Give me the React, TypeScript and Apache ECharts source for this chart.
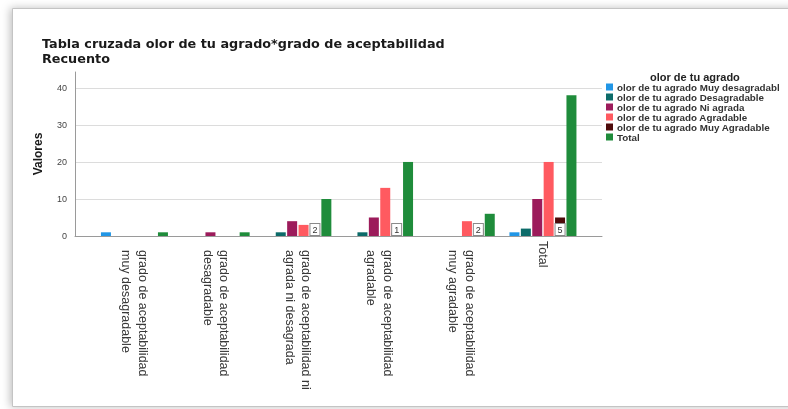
import React, { useEffect, useRef } from "react";
import * as echarts from "echarts";

const categories = [
  "grado de aceptabilidad\nmuy desagradable",
  "grado de aceptabilidad\ndesagradable",
  "grado de aceptabilidad ni\nagrada ni desagrada",
  "grado de aceptabilidad\nagradable",
  "grado de aceptabilidad\nmuy agradable",
  "Total",
];
const seriesNames = [
  "olor de tu agrado Muy desagradabl",
  "olor de tu agrado Desagradable",
  "olor de tu agrado Ni agrada",
  "olor de tu agrado Agradable",
  "olor de tu agrado Muy Agradable",
  "Total",
];
const muyDesagradable = [1, 0, 0, 0, 0, 1];
const desagradable = [0, 0, 1, 1, 0, 2];
const niAgrada = [0, 1, 4, 5, 0, 10];
const agradable = [0, 0, 3, 13, 4, 20];
const muyAgradable = [0, 0, 2, 1, 2, 5];
const total = [1, 1, 10, 20, 6, 38];
const seriesValues = [muyDesagradable, desagradable, niAgrada, agradable, muyAgradable, total];
const colors = ["#2196e6", "#0c6b69", "#9c1b5b", "#ff5a60", "#4e0a0a", "#1f8c3b"];
const yTicks = [0, 10, 20, 30, 40];
const yMax = 44.3;
const titleText = "Tabla cruzada olor de tu agrado*grado de aceptabilidad";
const subtitleText = "Recuento";
const legendTitle = "olor de tu agrado";
const yName = "Valores";

export default function App() {
  const ref = useRef<HTMLDivElement>(null);
  useEffect(() => {
    const chart = echarts.init(ref.current!, undefined, { renderer: "svg" });
    const font = "'Liberation Sans', Arial, sans-serif";
    const titleStyle = { fontSize: 12.8, fontWeight: "bold", color: "#1a1a1a", lineHeight: 12.8, fontFamily: "'DejaVu Sans', sans-serif" };
    const series: any[] = seriesValues.map((vals, i) => ({
      name: seriesNames[i],
      type: "bar",
      xAxisIndex: 1,
      yAxisIndex: 1,
      barWidth: 10,
      barGap: "14%",
      itemStyle: { color: colors[i] },
      data: i === 4 ? vals.map((v) => (v > 0 ? v : null)) : vals,
      label:
        i === 4
          ? {
              show: true,
              position: "insideBottom",
              distance: 1,
              color: "#333",
              fontSize: 9,
              fontFamily: font,
              backgroundColor: "#ffffff",
              borderColor: "#8a8a8a",
              borderWidth: 1,
              padding: [1, 2, 1, 2],
            }
          : { show: false },
    }));
    chart.setOption({
      animation: false,
      textStyle: { fontFamily: font },
      graphic: [
        {
          type: "rect",
          z: -10,
          shape: { x: 12.5, y: 8.5, width: 800, height: 398 },
          style: {
            fill: "#ffffff",
            stroke: "#c4c4c4",
            lineWidth: 1,
            shadowBlur: 8,
            shadowColor: "rgba(0,0,0,0.25)",
            shadowOffsetX: -2,
            shadowOffsetY: 0,
          },
        },
      ],
      title: [
        { text: titleText, left: 42, top: 37, padding: 0, textStyle: titleStyle },
        { text: subtitleText, left: 42, top: 52, padding: 0, textStyle: titleStyle },
        {
          text: legendTitle,
          left: 650,
          top: 71,
          padding: 0,
          textStyle: { fontSize: 11, fontWeight: "bold", color: "#222", fontFamily: font },
        },
      ],
      legend: {
        orient: "vertical",
        left: 606,
        top: 82,
        padding: 0,
        itemWidth: 7,
        itemHeight: 7,
        itemGap: 0,
        itemStyle: { borderWidth: 0 },
        icon: "rect",
        textStyle: { fontSize: 9.8, lineHeight: 9.8, fontWeight: "bold", color: "#333", padding: [0, 0, 0, -1] },
        data: seriesNames,
      },
      grid: [
        { left: 75, top: 72, width: 527, height: 164 },
        { left: 93.6, top: 72, width: 490.2, height: 164 },
      ],
      xAxis: [
        {
          type: "value",
          gridIndex: 0,
          min: 0,
          max: 1,
          axisLine: { show: true, onZero: false, lineStyle: { color: "#9a9a9a", width: 1 } },
          axisTick: { show: false },
          axisLabel: { show: false },
          splitLine: { show: false },
        },
        {
          type: "category",
          gridIndex: 1,
          data: categories.map((c) => (c.includes("\n") ? { value: c, textStyle: { padding: [0, 0, 0, 9] } } : c)),
          axisLine: { show: false },
          axisTick: { show: false },
          axisLabel: {
            rotate: -90,
            margin: 5,
            interval: 0,
            fontSize: 12.5,
            lineHeight: 16.5,
            color: "#383838",
            fontFamily: font,
          },
        },
      ],
      yAxis: [
        {
          type: "value",
          gridIndex: 0,
          min: 0,
          max: yMax,
          interval: 10,
          name: yName,
          nameLocation: "middle",
          nameGap: 31,
          nameTextStyle: { fontSize: 12, fontWeight: "bold", color: "#1a1a1a", fontFamily: font },
          axisLine: { show: true, lineStyle: { color: "#9a9a9a", width: 1 } },
          axisTick: { show: false },
          axisLabel: {
            showMaxLabel: false,
            margin: 8,
            fontSize: 9,
            color: "#444",
            formatter: (v: number) => (yTicks.includes(v) ? String(v) : ""),
          },
          splitLine: { show: true, showMaxLine: false, showMinLine: false, lineStyle: { color: "#dcdcdc", width: 1 } },
        },
        {
          type: "value",
          gridIndex: 1,
          min: 0,
          max: yMax,
          interval: 10,
          show: false,
          splitLine: { show: false },
        },
      ],
      series,
    });
    return () => chart.dispose();
  }, []);
  return <div ref={ref} style={{ position: "fixed", left: 0, top: 0, width: 788, height: 409 }} />;
}
